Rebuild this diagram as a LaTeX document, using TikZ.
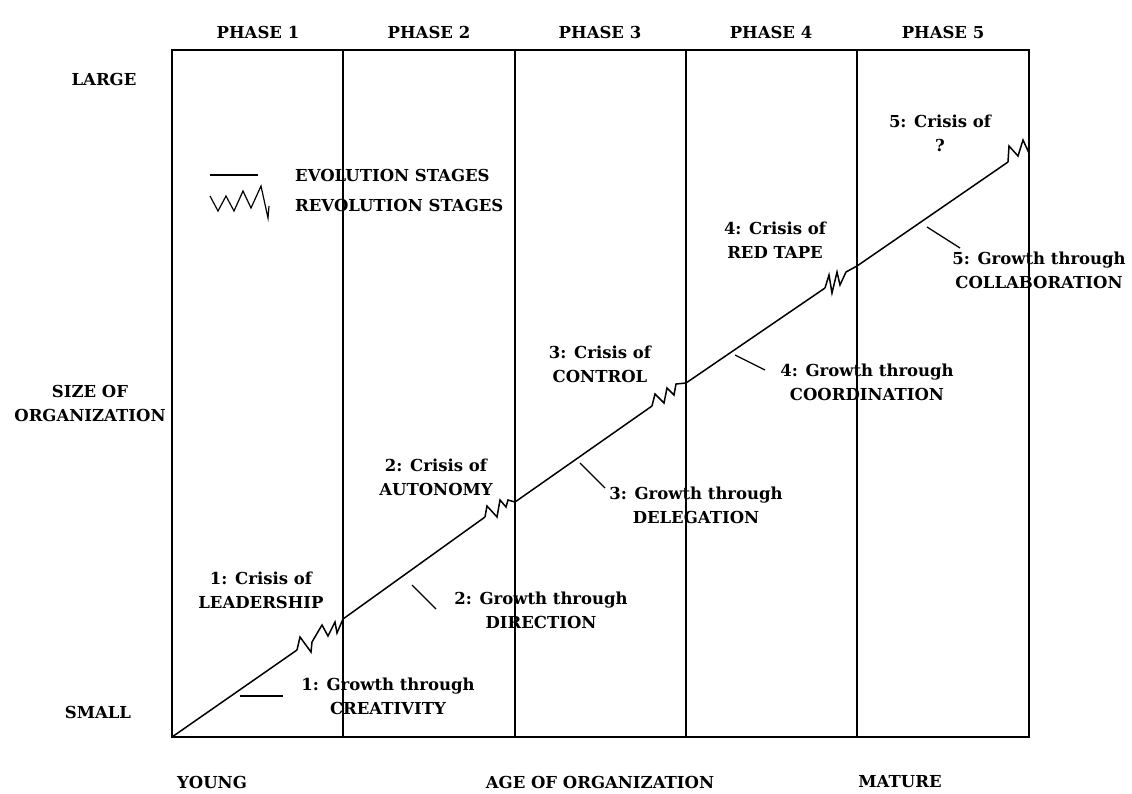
\documentclass[tikz,border=0pt]{standalone}
\usepackage{fontspec}
\setmainfont{DejaVu Serif}
\begin{document}
\begin{tikzpicture}[x=1pt,y=-1pt,
  lbl/.style={font=\bfseries\fontsize{16.5}{24}\selectfont, align=center, inner sep=0pt},
  frame/.style={line width=2pt},
  curve/.style={line width=1.5pt, line join=miter},
  leader/.style={line width=1.3pt}]
\useasboundingbox (0,0) rectangle (1132,793);

% chart frame and phase dividers
\draw[frame] (172,50) rectangle (1029,737);
\foreach \x in {343,515,686,857} \draw[frame] (\x,50) -- (\x,737);

% phase headings
\node[lbl] (ph1) at (258,32) {PHASE 1};
\node[lbl] (ph2) at (429,32) {PHASE 2};
\node[lbl] (ph3) at (600,32) {PHASE 3};
\node[lbl] (ph4) at (771,32) {PHASE 4};
\node[lbl] (ph5) at (943,32) {PHASE 5};

% axis labels
\node[lbl] (large) at (104,79) {LARGE};
\node[lbl] (size) at (90,403) {SIZE OF\\ORGANIZATION};
\node[lbl] (small) at (98,712) {SMALL};
\node[lbl] (young) at (212,782) {YOUNG};
\node[lbl] (age) at (600,782) {AGE OF ORGANIZATION};
\node[lbl] (mature) at (900,782) {MATURE};

% legend
\coordinate (ev1) at (210,175);
\coordinate (ev2) at (258,175);
\draw[curve] (ev1) -- (ev2);
\node[lbl, anchor=west] (evtxt) at (295,175) {EVOLUTION STAGES};
\draw[curve, line width=1.2pt] (210,196) -- (218,211) -- (226,196) -- (234,211) -- (243,191)
  -- (251,208) -- (261,186) -- (268,218) -- (269,206);
\node[lbl, anchor=west] (revtxt) at (295,205) {REVOLUTION STAGES};

% growth curve: evolution segments joined by revolution zigzags
\coordinate (o)   at (172,737);
\coordinate (z1s) at (297,650);
\coordinate (z1e) at (343,619);
\coordinate (z2s) at (485,517);
\coordinate (z2e) at (515,502);
\coordinate (z3s) at (652,406);
\coordinate (z3e) at (686,383);
\coordinate (z4s) at (825,288);
\coordinate (z4e) at (857,266);
\coordinate (z5s) at (1008,162);
\coordinate (z5e) at (1029,145);

\draw[curve] (o) -- (z1s);
\draw[curve] (z1s) -- (300,637) -- (311,652) -- (312,642) -- (322,625) -- (328,636)
  -- (335,622) -- (337,633) -- (z1e);
\draw[curve] (z1e) -- (z2s);
\draw[curve] (z2s) -- (487,506) -- (497,517) -- (500,500) -- (506,507) -- (508,500) -- (z2e);
\draw[curve] (z2e) -- (z3s);
\draw[curve] (z3s) -- (655,394) -- (664,403) -- (667,388) -- (674,395) -- (676,384) -- (z3e);
\draw[curve] (z3e) -- (z4s);
\draw[curve] (z4s) -- (829,275) -- (832,293) -- (837,272) -- (840,285) -- (846,272) -- (z4e);
\draw[curve] (z4e) -- (z5s);
\draw[curve] (z5s) -- (1009,146) -- (1018,156) -- (1023,140) -- (1028,151) -- (z5e);

% crisis labels
\node[lbl] (c1) at (261,590) {1: Crisis of\\LEADERSHIP};
\node[lbl] (c2) at (436,477) {2: Crisis of\\AUTONOMY};
\node[lbl] (c3) at (600,364) {3: Crisis of\\CONTROL};
\node[lbl] (c4) at (775,240) {4: Crisis of\\RED TAPE};
\node[lbl] (c5) at (940,133) {5: Crisis of\\?};

% growth labels with leader ticks
\node[lbl] (g1) at (388,696) {1: Growth through\\CREATIVITY};
\node[lbl] (g2) at (541,610) {2: Growth through\\DIRECTION};
\node[lbl] (g3) at (696,505) {3: Growth through\\DELEGATION};
\node[lbl] (g4) at (867,382) {4: Growth through\\COORDINATION};
\node[lbl] (g5) at (1039,270) {5: Growth through\\COLLABORATION};

\coordinate (t1a) at (240,696); \coordinate (t1b) at (283,696);
\coordinate (t2a) at (412,585); \coordinate (t2b) at (436,609);
\coordinate (t3a) at (580,463); \coordinate (t3b) at (605,488);
\coordinate (t4a) at (735,355); \coordinate (t4b) at (765,370);
\coordinate (t5a) at (927,227); \coordinate (t5b) at (960,248);
\foreach \i in {1,...,5} \draw[leader] (t\i a) -- (t\i b);
\end{tikzpicture}
\end{document}
